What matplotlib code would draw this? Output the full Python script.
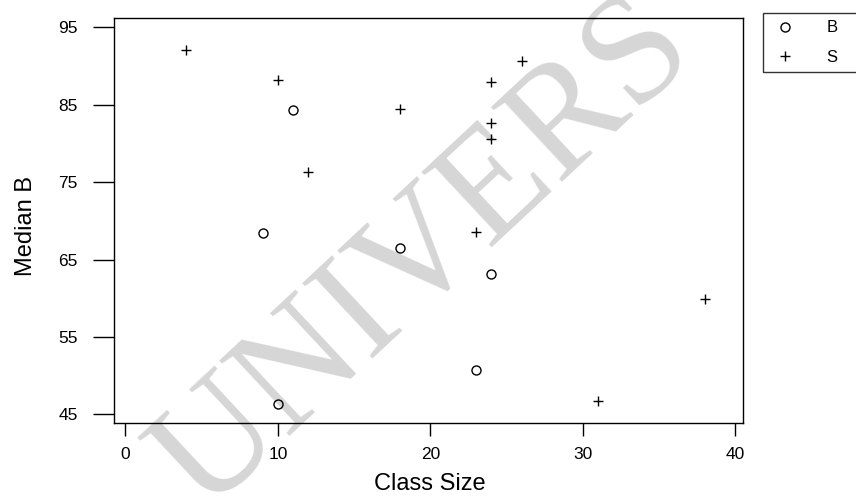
import matplotlib
matplotlib.use("Agg")
import matplotlib.pyplot as plt

plt.rcParams['font.family'] = ['Liberation Sans', 'DejaVu Sans']

# class size vs median score, two groups
b_size = [11, 9, 18, 24, 23, 10]
b_median = [84.3, 68.4, 66.5, 63.2, 50.7, 46.4]

s_size = [4, 10, 12, 26, 24, 18, 24, 24, 23, 38, 31]
s_median = [92.1, 88.2, 76.3, 90.7, 88.0, 84.4, 82.6, 80.6, 68.5, 59.9, 46.8]

x_ticks = [0, 10, 20, 30, 40]
y_ticks = [45, 55, 65, 75, 85, 95]

fig = plt.figure(figsize=(8.56, 4.96), dpi=100)
ax = fig.add_axes([0.1332, 0.1472, 0.7348, 0.8165])
ax.set_facecolor('none')

# background stamp
fig.text(0.4965, 0.486, 'UNIVERS', family='Liberation Serif', fontsize=112,
         color='#d6d6d6', rotation=43, rotation_mode='anchor',
         ha='center', va='center', zorder=-1)

ax.plot(b_size, b_median, linestyle='none', marker='o', markersize=6.5,
        markerfacecolor='none', markeredgecolor='black', markeredgewidth=1.0,
        label='B')
ax.plot(s_size, s_median, linestyle='none', marker='+', markersize=7,
        color='black', markeredgewidth=1.0, label='S')

ax.set_xlim(-0.75, 40.5)
ax.set_ylim(43.9, 96.2)
ax.set_xticks(x_ticks)
ax.set_yticks(y_ticks)

for sp in ax.spines.values():
    sp.set_linewidth(1.0)
    sp.set_color('black')

ax.tick_params(axis='y', length=15, width=1.0, pad=11, labelsize=12.5)
ax.tick_params(axis='x', length=9, width=1.0, pad=8, labelsize=12.5)

fig.text(430 / 856, 6 / 496, 'Class Size', fontsize=17,
         ha='center', va='baseline')
fig.text(32.5 / 856, 1 - 226.5 / 496, 'Median B', fontsize=17, rotation=90,
         rotation_mode='anchor', ha='center', va='baseline')

leg = fig.legend(loc='upper left', bbox_to_anchor=(763 / 856, 0.5, 110 / 856, 0.474),
                 mode='expand', fontsize=12, frameon=True, fancybox=False,
                 borderpad=0.45, labelspacing=0.85, handlelength=1.75,
                 handletextpad=1.6, borderaxespad=0)
leg.get_frame().set_edgecolor('black')
leg.get_frame().set_linewidth(1.0)

fig.savefig('out.png', dpi=100)
